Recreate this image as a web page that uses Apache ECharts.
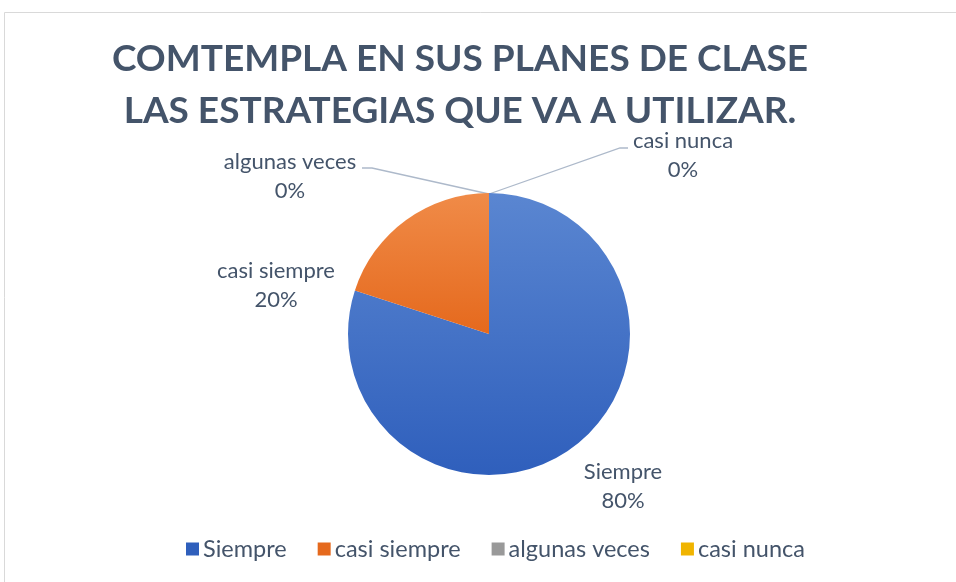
<!DOCTYPE html>
<html>
<head>
<meta charset="utf-8">
<script src="https://cdn.jsdelivr.net/npm/echarts@6/dist/echarts.min.js"></script>
<style>
html,body{margin:0;padding:0;background:#fff;}
#chart{width:956px;height:582px;}
</style>
</head>
<body>
<div id="chart"></div>
<script>
var titleLines = ['COMTEMPLA EN SUS PLANES DE CLASE', 'LAS ESTRATEGIAS QUE VA A UTILIZAR.'];
var categories = ['Siempre', 'casi siempre', 'algunas veces', 'casi nunca'];
var values = [80, 20, 0, 0];
var colors = [
  ['#5A86D1', '#2F5FBC'],
  ['#F08B48', '#E5691D'],
  ['#B0B0B0', '#999999'],
  ['#FFC926', '#F0B400']
];

// label anchor positions (centre of 2-line label block) and leader lines
var labelPos = [
  {x: 623, y: 486},
  {x: 276, y: 285},
  {x: 290, y: 176},
  {x: 683, y: 155}
];
var leader = [
  null,
  null,
  [[489, 194], [372, 168], [362, 168]],
  [[489, 194], [620, 148], [628, 148]]
];

var textColor = '#44546A';
var chart = echarts.init(document.getElementById('chart'));

var data = categories.map(function (c, i) {
  return {
    name: c,
    value: values[i],
    itemStyle: {
      color: new echarts.graphic.LinearGradient(0, 0, 0, 1, [
        {offset: 0, color: colors[i][0]},
        {offset: 1, color: colors[i][1]}
      ])
    },
    labelLine: {show: !!leader[i]}
  };
});

chart.setOption({
  animation: false,
  backgroundColor: '#ffffff',
  graphic: [{
    type: 'rect',
    shape: {x: 4.5, y: 12.5, width: 1000, height: 1000},
    style: {fill: 'none', stroke: '#D9D9D9', lineWidth: 1},
    silent: true
  }],
  title: {
    text: titleLines.join('\n'),
    left: 455,
    textAlign: 'center',
    top: 28,
    textStyle: {
      fontFamily: 'Lato',
      fontWeight: 'bold',
      fontSize: 37,
      lineHeight: 52,
      color: textColor
    }
  },
  legend: {
    bottom: 16,
    left: 181,
    itemWidth: 13,
    itemHeight: 13,
    itemGap: 31,
    icon: 'rect',
    textStyle: {fontFamily: 'Lato', fontSize: 23.5, color: textColor, padding: [0, 0, 0, -1]},
    data: categories.map(function (c, i) {
      return {name: c, itemStyle: {color: colors[i][1]}};
    })
  },
  series: [{
    type: 'pie',
    center: [489, 334],
    radius: 141,
    startAngle: 90,
    clockwise: true,
    avoidLabelOverlap: false,
    stillShowZeroSum: true,
    data: data,
    label: {
      show: true,
      position: 'outside',
      formatter: '{b}\n{d}%',
      fontFamily: 'Lato',
      fontSize: 22,
      lineHeight: 29,
      color: textColor,
      align: 'center'
    },
    labelLine: {
      show: true,
      lineStyle: {color: '#ADB9CA', width: 1.3}
    },
    labelLayout: function (params) {
      var i = params.dataIndex;
      var out = {
        x: labelPos[i].x,
        y: labelPos[i].y,
        align: 'center',
        verticalAlign: 'middle'
      };
      if (leader[i]) out.labelLinePoints = leader[i];
      return out;
    }
  }]
});
</script>
</body>
</html>
